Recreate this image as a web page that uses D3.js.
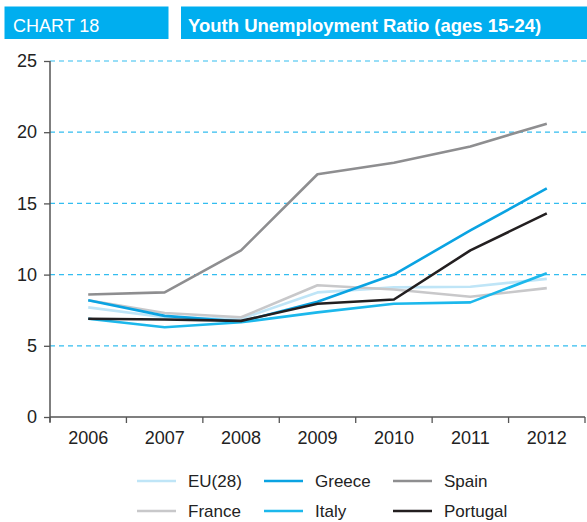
<!DOCTYPE html>
<html>
<head>
<meta charset="utf-8">
<script src="https://cdn.jsdelivr.net/npm/d3@7"></script>
<style>
  body { margin: 0; background: #fff; }
  svg { display: block; font-family: "Liberation Sans", Arial, Helvetica, sans-serif; }
</style>
</head>
<body>
<svg id="chart" width="587" height="522"></svg>
<script>
const years = ["2006", "2007", "2008", "2009", "2010", "2011", "2012"];
const yTicks = [0, 5, 10, 15, 20, 25];
const seriesNames = ["EU(28)", "France", "Spain", "Greece", "Italy", "Portugal"];
const eu28     = [7.7, 7.0, 6.9, 8.75, 9.1, 9.15, 9.7];
const france   = [8.2, 7.3, 7.0, 9.25, 8.95, 8.45, 9.05];
const spain    = [8.6, 8.75, 11.7, 17.05, 17.85, 19.0, 20.6];
const greece   = [8.2, 7.1, 6.7, 8.1, 10.0, 13.1, 16.05];
const italy    = [6.9, 6.3, 6.65, 7.35, 7.95, 8.05, 10.1];
const portugal = [6.9, 6.85, 6.75, 7.95, 8.25, 11.7, 14.3];
const seriesValues = [eu28, france, spain, greece, italy, portugal];
const seriesColors = ["#bfe5f7", "#c8c8ca", "#8e8e90", "#0aa3e2", "#1cb8ec", "#231f20"];
const legendRows = [["EU(28)", "Greece", "Spain"], ["France", "Italy", "Portugal"]];

const svg = d3.select("#chart");

// Header boxes
const blue = "#00aeef";
svg.append("rect").attr("x", 4.5).attr("y", 6.5).attr("width", 164).attr("height", 32.5).attr("fill", blue);
svg.append("rect").attr("x", 181).attr("y", 6.5).attr("width", 406).attr("height", 32.5).attr("fill", blue);
svg.append("text").attr("x", 13).attr("y", 32).attr("fill", "#fff").attr("font-size", 18).text("CHART 18");
svg.append("text").attr("x", 188).attr("y", 32).attr("fill", "#fff").attr("font-size", 18.5).attr("font-weight", "bold")
  .text("Youth Unemployment Ratio (ages 15-24)");

const x = d3.scaleBand().domain(years).range([50, 585]).padding(0);
const y = d3.scaleLinear().domain([0, 25]).range([417, 61]);
const axisColor = "#555";

// Gridlines
svg.append("g").selectAll("line").data(yTicks.filter(d => d > 0)).join("line")
  .attr("x1", 50).attr("x2", 587)
  .attr("y1", d => y(d)).attr("y2", d => y(d))
  .attr("stroke", "#33bdf0").attr("stroke-width", 1.2).attr("stroke-dasharray", "5,4");

// Y axis
const yAxis = svg.append("g").attr("transform", "translate(50,0)")
  .call(d3.axisLeft(y).tickValues(yTicks).tickSize(6).tickPadding(7).tickFormat(d3.format("d")));
yAxis.select(".domain").attr("stroke", axisColor).attr("stroke-width", 1.5).attr("d", "M0,61V422");
yAxis.selectAll(".tick line").attr("stroke", axisColor).attr("stroke-width", 1.3);
yAxis.selectAll(".tick text").attr("font-size", 18).attr("fill", "#222").attr("font-family", "Liberation Sans, Arial, sans-serif");

// X axis
const xAxis = svg.append("g").attr("transform", "translate(0,417)")
  .call(d3.axisBottom(x).tickSize(0).tickPadding(14));
xAxis.select(".domain").attr("stroke", axisColor).attr("stroke-width", 1.5).attr("d", "M50,0H585");
xAxis.selectAll(".tick text").attr("font-size", 18).attr("fill", "#222").attr("font-family", "Liberation Sans, Arial, sans-serif");
const bounds = years.map(d => x(d)).concat([x.range()[1]]);
xAxis.append("g").selectAll("line").data(bounds).join("line")
  .attr("x1", d => d).attr("x2", d => d).attr("y1", 0).attr("y2", 6)
  .attr("stroke", axisColor).attr("stroke-width", 1.3);

// Lines
const line = d3.line().x((d, i) => x(years[i]) + x.bandwidth() / 2).y(d => y(d));
svg.append("g").selectAll("path").data(seriesValues).join("path")
  .attr("d", d => line(d))
  .attr("fill", "none")
  .attr("stroke", (d, i) => seriesColors[i])
  .attr("stroke-width", 2.6)
  .attr("stroke-linejoin", "round");

// Legend
const colX = [137, 264, 393];
const rowY = [481, 511];
legendRows.forEach((row, ri) => {
  row.forEach((name, ci) => {
    const idx = seriesNames.indexOf(name);
    const g = svg.append("g");
    g.append("line").attr("x1", colX[ci]).attr("x2", colX[ci] + 39)
      .attr("y1", rowY[ri]).attr("y2", rowY[ri])
      .attr("stroke", seriesColors[idx]).attr("stroke-width", 2.6);
    g.append("text").attr("x", colX[ci] + 51).attr("y", rowY[ri] + 6)
      .attr("font-size", 17).attr("fill", "#222").text(name);
  });
});
</script>
</body>
</html>
